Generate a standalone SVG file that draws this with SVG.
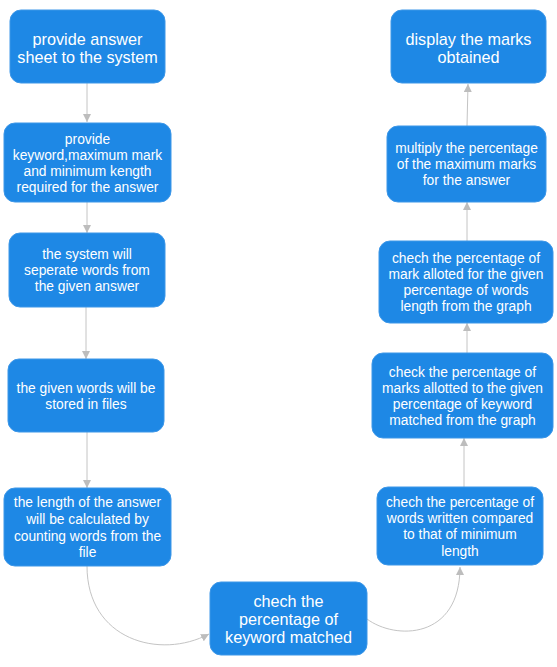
<svg xmlns="http://www.w3.org/2000/svg" width="557" height="667" viewBox="0 0 557 667">
<style>
.n rect{fill:#1e88e5;stroke:#3d97e8;stroke-width:1}
.n text{fill:#ffffff;font-family:"Liberation Sans",Arial,sans-serif;text-anchor:middle;dominant-baseline:central}
.s text{font-size:13.8px}
.m text{font-size:16.2px}
.l text{font-size:16.2px}
.c path{fill:none;stroke:#c4c4c4;stroke-width:1}
</style>
<defs>
<marker id="ah" markerWidth="8" markerHeight="8" refX="8" refY="4" orient="auto" markerUnits="userSpaceOnUse">
<path d="M0,0 L8,4 L0,8 z" fill="#bdbdbd"/>
</marker>
</defs>
<rect width="557" height="667" fill="#ffffff"/>
<g id="connectors" class="c">
<path d="M87,83 L87,122" marker-end="url(#ah)"/>
<path d="M87,202 L87,233" marker-end="url(#ah)"/>
<path d="M86,307 L86,359" marker-end="url(#ah)"/>
<path d="M87,432 L87,488" marker-end="url(#ah)"/>
<path d="M87,566 C87,640 160,660 209,634" marker-end="url(#ah)"/>
<path d="M367,619 C395,640 460,640 460,567" marker-end="url(#ah)"/>
<path d="M464,487 L464,438" marker-end="url(#ah)"/>
<path d="M467,353 L467,323" marker-end="url(#ah)"/>
<path d="M467,241 L467,202" marker-end="url(#ah)"/>
<path d="M467,126 L468,84" marker-end="url(#ah)"/>
</g>
<g id="n1" class="n m">
<rect x="10" y="10" width="155" height="73" rx="11"/>
<text x="87.5" y="39">provide answer</text>
<text x="87.5" y="57">sheet to the system</text>
</g>
<g id="n2" class="n s">
<rect x="4" y="123" width="167" height="79" rx="11"/>
<text x="87.5" y="139">provide</text>
<text x="87.5" y="155">keyword,maximum mark</text>
<text x="87.5" y="171">and minimum kength</text>
<text x="87.5" y="187">required for the answer</text>
</g>
<g id="n3" class="n s">
<rect x="9" y="233" width="156" height="74" rx="11"/>
<text x="87" y="254">the system will</text>
<text x="87" y="270">seperate words from</text>
<text x="87" y="286">the given answer</text>
</g>
<g id="n4" class="n s">
<rect x="8" y="359" width="156" height="73" rx="11"/>
<text x="86" y="388">the given words will be</text>
<text x="86" y="404">stored in files</text>
</g>
<g id="n5" class="n s">
<rect x="4" y="488" width="167" height="78" rx="11"/>
<text x="87.5" y="502">the length of the answer</text>
<text x="87.5" y="519">will be calculated by</text>
<text x="87.5" y="536">counting words from the</text>
<text x="87.5" y="552">file</text>
</g>
<g id="n6" class="n l">
<rect x="210" y="582" width="157" height="73" rx="11"/>
<text x="288.5" y="601">chech the</text>
<text x="288.5" y="619">percentage of</text>
<text x="288.5" y="637">keyword matched</text>
</g>
<g id="n7" class="n s">
<rect x="377" y="487" width="166" height="78" rx="11"/>
<text x="460" y="502">chech the percentage of</text>
<text x="460" y="518">words written compared</text>
<text x="460" y="534">to that of minimum</text>
<text x="460" y="551">length</text>
</g>
<g id="n8" class="n s">
<rect x="372" y="353" width="181" height="85" rx="11"/>
<text x="462.5" y="372">check the percentage of</text>
<text x="462.5" y="388">marks allotted to the given</text>
<text x="462.5" y="404">percentage of keyword</text>
<text x="462.5" y="420">matched from the graph</text>
</g>
<g id="n9" class="n s">
<rect x="379" y="241" width="174" height="82" rx="11"/>
<text x="466" y="258">chech the percentage of</text>
<text x="466" y="274">mark alloted for the given</text>
<text x="466" y="290">percentage of words</text>
<text x="466" y="306">length from the graph</text>
</g>
<g id="n10" class="n s">
<rect x="387" y="126" width="159" height="76" rx="11"/>
<text x="466.5" y="148">multiply the percentage</text>
<text x="466.5" y="164">of the maximum marks</text>
<text x="466.5" y="180">for the answer</text>
</g>
<g id="n11" class="n m">
<rect x="391" y="10" width="155" height="73" rx="11"/>
<text x="468.5" y="39">display the marks</text>
<text x="468.5" y="57">obtained</text>
</g>
</svg>
